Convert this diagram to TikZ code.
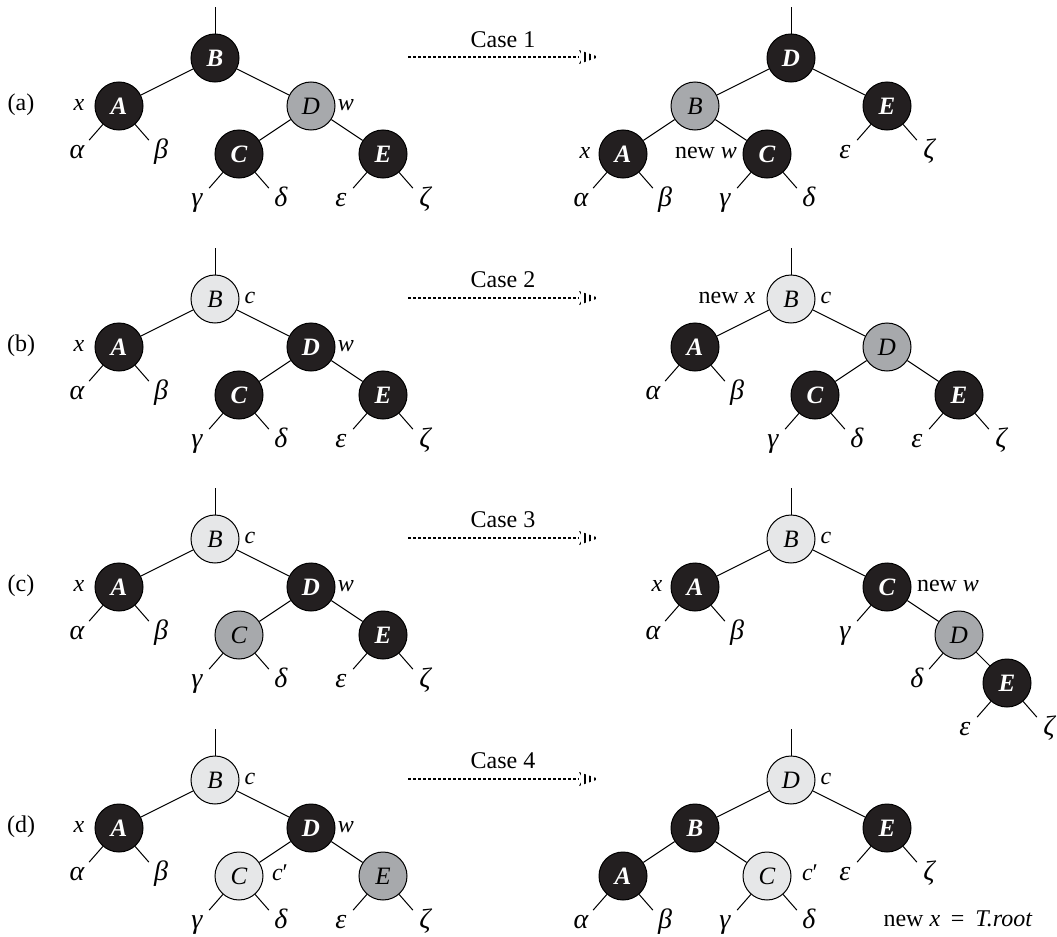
\documentclass[tikz,border=0pt]{standalone}
\usepackage{fontspec}
\setmainfont{Liberation Serif}
\usetikzlibrary{calc}
\definecolor{nodeblack}{RGB}{35,31,32}
\definecolor{nodegray}{RGB}{167,169,172}
\definecolor{nodelight}{RGB}{230,231,232}
\newcommand\leafL[3]{\node[leaf] (#2) at ($(#1)+(-42,48)$) {#3}; \draw[ln] (#1) -- (#2);}
\newcommand\leafR[3]{\node[leaf] (#2) at ($(#1)+(42,48)$) {#3}; \draw[ln] (#1) -- (#2);}
\newcommand\dothead[1]{%
  \begin{scope}[shift={(#1)}]
    \clip (0,-7) -- (20,0) -- (0,7) .. controls (3.5,2) and (3.5,-2) .. (0,-7);
    \draw[line width=8pt, dash pattern=on 1.4pt off 1.1pt, black] (-0.5,0) -- (20,0);
  \end{scope}}
\begin{document}
\begin{tikzpicture}[x=0.5pt,y=-0.5pt,
  font=\fontsize{12}{14}\selectfont,
  ln/.style={line width=0.5pt, black},
  nd/.style={circle, draw=black, line width=0.5pt, minimum size=24pt, inner sep=0pt, font=\fontsize{12.5}{14}\selectfont\itshape},
  blk/.style={nd, fill=nodeblack, text=white, font=\fontsize{12.5}{14}\selectfont\bfseries\itshape},
  gry/.style={nd, fill=nodegray},
  lgt/.style={nd, fill=nodelight},
  leaf/.style={circle, inner sep=0pt, minimum size=18pt, text height=6.5pt, text depth=2pt, font=\fontsize{14}{16}\selectfont\itshape},
  lab/.style={inner sep=0pt, text height=5.5pt, text depth=1.5pt},
  casetxt/.style={inner sep=0pt},
  dotln/.style={line width=1.3pt, dash pattern=on 1.4pt off 1.1pt, black}]
\useasboundingbox (0,0) rectangle (1057,937);

% ================= (a) =================
\node[lab] (alab) at (21,106) {(a)};
\node[blk] (aB) at (215,58) {B};
\node[blk] (aA) at (119,106) {A};
\node[gry] (aD) at (311,106) {D};
\node[blk] (aC) at (239,154) {C};
\node[blk] (aE) at (383,154) {E};
\coordinate (aT) at (215,7);
\draw[ln] (aT) -- (aB);
\draw[ln] (aB) -- (aA); \draw[ln] (aB) -- (aD);
\draw[ln] (aD) -- (aC); \draw[ln] (aD) -- (aE);
\leafL{aA}{aa}{α} \leafR{aA}{ab}{β}
\leafL{aC}{ag}{γ} \leafR{aC}{ad}{δ}
\leafL{aE}{ae}{ε} \leafR{aE}{az}{ζ}
\node[lab] (ax) at (79,106) {\textit{x}};
\node[lab] (aw) at (346,106) {\textit{w}};

\node[casetxt] (caseA) at (503,40) {Case 1};
\coordinate (arrA1) at (408,57); \coordinate (arrA2) at (579,57);
\draw[dotln] (arrA1) -- (arrA2);
\dothead{arrA2}

\node[blk] (arD) at (791,58) {D};
\node[gry] (arB) at (695,106) {B};
\node[blk] (arE) at (887,106) {E};
\node[blk] (arA) at (623,154) {A};
\node[blk] (arC) at (767,154) {C};
\coordinate (arT) at (791,7);
\draw[ln] (arT) -- (arD);
\draw[ln] (arD) -- (arB); \draw[ln] (arD) -- (arE);
\draw[ln] (arB) -- (arA); \draw[ln] (arB) -- (arC);
\leafL{arA}{ara}{α} \leafR{arA}{arb}{β}
\leafL{arC}{arg}{γ} \leafR{arC}{ard}{δ}
\leafL{arE}{are}{ε} \leafR{arE}{arz}{ζ}
\node[lab] (arx) at (585,154) {\textit{x}};
\node[lab] (arw) at (706,154) {new \textit{w}};

% ================= (b) =================
\node[lab] (blab) at (21,347) {(b)};
\node[lgt] (bB) at (215,299) {B};
\node[blk] (bA) at (119,347) {A};
\node[blk] (bD) at (311,347) {D};
\node[blk] (bC) at (239,395) {C};
\node[blk] (bE) at (383,395) {E};
\coordinate (bT) at (215,248);
\draw[ln] (bT) -- (bB);
\draw[ln] (bB) -- (bA); \draw[ln] (bB) -- (bD);
\draw[ln] (bD) -- (bC); \draw[ln] (bD) -- (bE);
\leafL{bA}{ba}{α} \leafR{bA}{bb}{β}
\leafL{bC}{bg}{γ} \leafR{bC}{bd}{δ}
\leafL{bE}{be}{ε} \leafR{bE}{bz}{ζ}
\node[lab] (bc) at (250,299) {\textit{c}};
\node[lab] (bx) at (79,347) {\textit{x}};
\node[lab] (bw) at (346,347) {\textit{w}};

\node[casetxt] (caseB) at (503,280) {Case 2};
\coordinate (arrB1) at (408,298); \coordinate (arrB2) at (579,298);
\draw[dotln] (arrB1) -- (arrB2);
\dothead{arrB2}

\node[lgt] (brB) at (791,299) {B};
\node[blk] (brA) at (695,347) {A};
\node[gry] (brD) at (887,347) {D};
\node[blk] (brC) at (815,395) {C};
\node[blk] (brE) at (959,395) {E};
\coordinate (brT) at (791,248);
\draw[ln] (brT) -- (brB);
\draw[ln] (brB) -- (brA); \draw[ln] (brB) -- (brD);
\draw[ln] (brD) -- (brC); \draw[ln] (brD) -- (brE);
\leafL{brA}{bra}{α} \leafR{brA}{brb}{β}
\leafL{brC}{brg}{γ} \leafR{brC}{brd}{δ}
\leafL{brE}{bre}{ε} \leafR{brE}{brz}{ζ}
\node[lab] (brx) at (727,299) {new \textit{x}};
\node[lab] (brc) at (826,299) {\textit{c}};

% ================= (c) =================
\node[lab] (clab) at (21,587) {(c)};
\node[lgt] (cB) at (215,539) {B};
\node[blk] (cA) at (119,587) {A};
\node[blk] (cD) at (311,587) {D};
\node[gry] (cC) at (239,635) {C};
\node[blk] (cE) at (383,635) {E};
\coordinate (cT) at (215,488);
\draw[ln] (cT) -- (cB);
\draw[ln] (cB) -- (cA); \draw[ln] (cB) -- (cD);
\draw[ln] (cD) -- (cC); \draw[ln] (cD) -- (cE);
\leafL{cA}{ca}{α} \leafR{cA}{cb}{β}
\leafL{cC}{cg}{γ} \leafR{cC}{cd}{δ}
\leafL{cE}{ce}{ε} \leafR{cE}{cz}{ζ}
\node[lab] (cc) at (250,539) {\textit{c}};
\node[lab] (cx) at (79,587) {\textit{x}};
\node[lab] (cw) at (346,587) {\textit{w}};

\node[casetxt] (caseC) at (503,520) {Case 3};
\coordinate (arrC1) at (408,538); \coordinate (arrC2) at (579,538);
\draw[dotln] (arrC1) -- (arrC2);
\dothead{arrC2}

\node[lgt] (crB) at (791,539) {B};
\node[blk] (crA) at (695,587) {A};
\node[blk] (crC) at (887,587) {C};
\node[gry] (crD) at (959,635) {D};
\node[blk] (crE) at (1007,683) {E};
\coordinate (crT) at (791,488);
\draw[ln] (crT) -- (crB);
\draw[ln] (crB) -- (crA); \draw[ln] (crB) -- (crC);
\draw[ln] (crC) -- (crD); \draw[ln] (crD) -- (crE);
\leafL{crA}{cra}{α} \leafR{crA}{crb}{β}
\leafL{crC}{crg}{γ}
\leafL{crD}{crd}{δ}
\leafL{crE}{cre}{ε} \leafR{crE}{crz}{ζ}
\node[lab] (crc) at (826,539) {\textit{c}};
\node[lab] (crx) at (657,587) {\textit{x}};
\node[lab] (crw) at (948,587) {new \textit{w}};

% ================= (d) =================
\node[lab] (dlab) at (21,828) {(d)};
\node[lgt] (dB) at (215,780) {B};
\node[blk] (dA) at (119,828) {A};
\node[blk] (dD) at (311,828) {D};
\node[lgt] (dC) at (239,876) {C};
\node[gry] (dE) at (383,876) {E};
\coordinate (dT) at (215,729);
\draw[ln] (dT) -- (dB);
\draw[ln] (dB) -- (dA); \draw[ln] (dB) -- (dD);
\draw[ln] (dD) -- (dC); \draw[ln] (dD) -- (dE);
\leafL{dA}{da}{α} \leafR{dA}{db}{β}
\leafL{dC}{dg}{γ} \leafR{dC}{dd}{δ}
\leafL{dE}{de}{ε} \leafR{dE}{dz}{ζ}
\node[lab] (dc) at (250,780) {\textit{c}};
\node[lab] (dx) at (79,828) {\textit{x}};
\node[lab] (dw) at (346,828) {\textit{w}};
\node[lab] (dcp) at (280,876) {\textit{c}′};

\node[casetxt] (caseD) at (503,761) {Case 4};
\coordinate (arrD1) at (408,779); \coordinate (arrD2) at (579,779);
\draw[dotln] (arrD1) -- (arrD2);
\dothead{arrD2}

\node[lgt] (drD) at (791,780) {D};
\node[blk] (drB) at (695,828) {B};
\node[blk] (drE) at (887,828) {E};
\node[blk] (drA) at (623,876) {A};
\node[lgt] (drC) at (767,876) {C};
\coordinate (drT) at (791,729);
\draw[ln] (drT) -- (drD);
\draw[ln] (drD) -- (drB); \draw[ln] (drD) -- (drE);
\draw[ln] (drB) -- (drA); \draw[ln] (drB) -- (drC);
\leafL{drA}{dra}{α} \leafR{drA}{drb}{β}
\leafL{drC}{drg}{γ} \leafR{drC}{drd}{δ}
\leafL{drE}{dre}{ε} \leafR{drE}{drz}{ζ}
\node[lab] (drc) at (826,780) {\textit{c}};
\node[lab] (drcp) at (810,876) {\textit{c}′};
\node[lab] (droot) at (958,922) {new \textit{x}\hspace{0.45em}=\hspace{0.45em}\textit{T.root}};
\end{tikzpicture}
\end{document}
